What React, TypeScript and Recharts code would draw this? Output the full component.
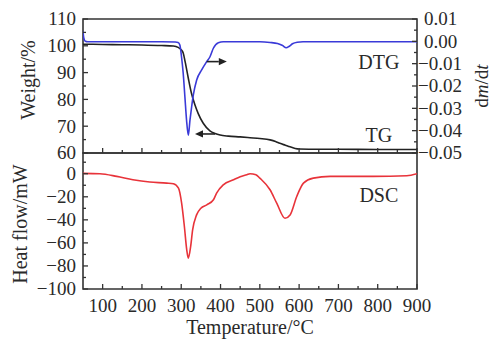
import React from 'react';
import { LineChart, Line, XAxis, YAxis, ReferenceArea, ReferenceLine, ReferenceDot } from 'recharts';

// ---------- data ----------
const tgTemp = [50, 100, 150, 200, 250, 280, 292, 300, 305, 310, 318, 326, 335, 343, 356, 373, 386, 399, 420, 450, 475, 500, 526, 540, 551, 565, 577, 590, 600, 650, 700, 800, 900];
const tgWeight = [100.6, 100.5, 100.4, 100.3, 100.1, 99.9, 99.4, 98.5, 97.3, 94.0, 87.9, 82.3, 77.9, 74.8, 71.1, 68.3, 67.3, 66.7, 66.3, 66.0, 65.7, 65.4, 64.9, 64.3, 63.6, 62.9, 62.3, 61.7, 61.5, 61.4, 61.4, 61.3, 61.3];

const dtgTemp = [50, 52, 56, 62, 150, 250, 285, 292, 296.5, 300.7, 305, 309.3, 313.5, 318, 322.3, 326.5, 330.8, 339.3, 352, 364.8, 373.2, 381.7, 394.4, 407, 450, 500, 526, 545, 558, 567, 575, 583, 595, 610, 700, 800, 900];
const dtgRate = [0.0045, 0.0015, 0.0, -0.0002, -0.0002, -0.0002, -0.0003, -0.0005, -0.0016, -0.0069, -0.0143, -0.0248, -0.0352, -0.042, -0.0352, -0.0293, -0.024, -0.0173, -0.0128, -0.0091, -0.0069, -0.0031, -0.0006, -0.0002, -0.0002, -0.0002, -0.0005, -0.001, -0.0019, -0.0029, -0.0022, -0.0011, -0.0004, -0.0002, -0.0002, -0.0002, -0.0002];

const dscTemp = [50, 93, 136, 177, 220, 263, 280, 293, 301, 308, 314, 318, 324, 329, 339, 350, 365, 382, 390, 407, 433, 450, 467, 475, 490, 500, 526, 543, 564, 577, 594, 611, 636, 679, 788, 874, 900];
const dscHeat = [0.3, 0, -2.3, -5.2, -7.2, -8.1, -8.7, -12.5, -25.5, -45.8, -66, -73.3, -63, -48.7, -35.7, -29.9, -27, -22.6, -16.8, -9.6, -5.2, -2.6, -0.9, 0, -0.8, -3.8, -13.9, -25.5, -38.6, -35.7, -19.7, -8.1, -3.8, -2.3, -2.3, -1.7, 0];

// ---------- ticks ----------
const tempTicks = [100, 150, 200, 250, 300, 350, 400, 450, 500, 550, 600, 650, 700, 750, 800, 850, 900];
const weightTicks = [60, 65, 70, 75, 80, 85, 90, 95, 100, 105, 110];
const rateTicks = [-0.05, -0.045, -0.04, -0.035, -0.03, -0.025, -0.02, -0.015, -0.01, -0.005, 0, 0.005, 0.01];
const heatTicks = [-100, -90, -80, -70, -60, -50, -40, -30, -20, -10, 0, 10];

const tempDomain = [50, 900];
const weightDomain = [60, 110];
const rateDomain = [-0.05, 0.01];
const heatDomain = [-100, 18];

// annotations (data coordinates)
const seriesLabels = [
  { text: 'DTG', t: 803, v: 93.6, axis: 'w' },
  { text: 'TG', t: 803, v: 66.7, axis: 'w' },
];
const dscLabel = { text: 'DSC', t: 803, v: -19.1 };
const arrowRight = { t1: 365, t2: 416, w: 94.1 };
const arrowLeft = { t1: 386, t2: 335, w: 67.1 };

const tgData = tgTemp.map((t, i) => ({ t, w: tgWeight[i] }));
const dtgData = dtgTemp.map((t, i) => ({ t, d: dtgRate[i] }));
const dscData = dscTemp.map((t, i) => ({ t, h: dscHeat[i] }));

// ---------- style ----------
const FONT = '"Liberation Serif", "Times New Roman", serif';
const FS = 19;
const FRAME = '#333';
const TXT = '#2a2a2a';

const minus = (s: string) => s.replace('-', '\u2212');

const near = (a: number, b: number) => Math.abs(a - b) < 1e-9;

const makeTick = (side: 'left' | 'right' | 'bottom', isMajor: (v: number) => boolean, fmt: (v: number) => string | null) =>
  (props: any) => {
    const { x, y, payload } = props;
    const v = payload.value as number;
    const major = isMajor(v);
    const len = major ? 5 : 3;
    const text = major ? fmt(v) : null;
    if (side === 'bottom') {
      return (
        <g>
          <line x1={x} x2={x} y1={y} y2={y - len} stroke={FRAME} strokeWidth={1.3} />
          {text && (
            <text x={x} y={y + 22.5} textAnchor="middle" fontFamily={FONT} fontSize={FS} fill={TXT}>{text}</text>
          )}
        </g>
      );
    }
    if (side === 'left') {
      return (
        <g>
          <line x1={x} x2={x + len} y1={y} y2={y} stroke={FRAME} strokeWidth={1.3} />
          {text && (
            <text x={x - 7} y={y + 6.3} textAnchor="end" fontFamily={FONT} fontSize={FS} fill={TXT}>{text}</text>
          )}
        </g>
      );
    }
    return (
      <g>
        <line x1={x} x2={x - len} y1={y} y2={y} stroke={FRAME} strokeWidth={1.3} />
        {text && (
          <text x={x + (v < -1e-9 ? 1 : 7)} y={y + 6.3} textAnchor="start" fontFamily={FONT} fontSize={FS} fill={TXT}>{text}</text>
        )}
      </g>
    );
  };

const isInt = (v: number, step: number) => near(v / step, Math.round(v / step));

const tempTick = makeTick('bottom', (v) => isInt(v, 100), (v) => String(v));
const tempTickNoLabel = makeTick('bottom', (v) => isInt(v, 100), () => null);
const weightTick = makeTick('left', (v) => isInt(v, 10), (v) => String(v));
const rateTick = makeTick('right', (v) => isInt(v * 1000, 10), (v) => minus((Math.round(v * 100) / 100).toFixed(2)));
const heatTick = makeTick('left', (v) => isInt(v, 20), (v) => (v === 0 ? '0' : minus(String(v))));

const Arrow = (p: any) => {
  const { x1, y1, x2, y2 } = p;
  const dir = Math.sign(x2 - x1);
  const hl = 8;
  const hw = 3.6;
  return (
    <g>
      <line x1={x1} y1={y1} x2={x2 - dir * hl} y2={y2} stroke="#222" strokeWidth={1.6} />
      <polygon points={`${x2},${y2} ${x2 - dir * hl},${y2 - hw} ${x2 - dir * hl},${y2 + hw}`} fill="#222" />
    </g>
  );
};

const textShape = (text: string) => (p: any) => (
  <text x={p.cx} y={p.cy + 6.5} textAnchor="middle" fontFamily={FONT} fontSize={FS + 1} fill={TXT}>{text}</text>
);

const leftTitle = (text: string, dx: number, dy: number) => (p: any) => {
  const vb = p.viewBox;
  const cx = vb.x + dx;
  const cy = vb.y + vb.height / 2 + dy;
  return (
    <text x={cx} y={cy} transform={`rotate(-90, ${cx}, ${cy})`} textAnchor="middle" dominantBaseline="central" fontFamily={FONT} fontSize={FS + 1} fill={TXT}>{text}</text>
  );
};

const rightTitle = (p: any) => {
  const vb = p.viewBox;
  const cx = vb.x + 64;
  const cy = vb.y + vb.height / 2;
  return (
    <text x={cx} y={cy} transform={`rotate(-90, ${cx}, ${cy})`} textAnchor="middle" dominantBaseline="central" fontFamily={FONT} fontSize={FS} fill={TXT}>
      d<tspan fontStyle="italic">m</tspan>/d<tspan fontStyle="italic">t</tspan>
    </text>
  );
};

const bottomTitle = (p: any) => {
  const vb = p.viewBox;
  return (
    <text x={vb.x + vb.width / 2} y={vb.y + 45} textAnchor="middle" fontFamily={FONT} fontSize={FS + 1} fill={TXT}>Temperature/°C</text>
  );
};

export default function App() {
  return (
    <div style={{ position: 'absolute', left: 0, top: 0, width: 491, height: 342, background: '#fff' }}>
      <div style={{ position: 'absolute', left: 0, top: 0 }}>
        <LineChart width={491} height={342} margin={{ top: 153, right: 74, bottom: 0, left: 0 }}>
          <XAxis dataKey="t" type="number" domain={tempDomain} ticks={tempTicks} interval={0} allowDataOverflow
            height={53} axisLine={false} tickLine={false} tickSize={0} tickMargin={0} tick={tempTick}
            label={{ content: bottomTitle }} />
          <YAxis yAxisId="h" type="number" domain={heatDomain} ticks={heatTicks} interval={0} allowDataOverflow
            width={83} axisLine={false} tickLine={false} tickSize={0} tickMargin={0} tick={heatTick}
            label={{ content: leftTitle('Heat flow/mW', 20, 3) }} />
          <ReferenceArea yAxisId="h" x1={50} x2={900} y1={-100} y2={18} fill="none" stroke={FRAME} strokeWidth={1.6} fillOpacity={0} />
          <Line yAxisId="h" data={dscData} dataKey="h" type="monotone" stroke="#e8333a" strokeWidth={1.6} dot={false} isAnimationActive={false} />
          <ReferenceDot yAxisId="h" x={dscLabel.t} y={dscLabel.v} r={1} shape={textShape(dscLabel.text)} />
        </LineChart>
      </div>
      <div style={{ position: 'absolute', left: 0, top: 0 }}>
        <LineChart width={491} height={180} margin={{ top: 19, right: 0, bottom: 0, left: 0 }}>
          <XAxis dataKey="t" type="number" domain={tempDomain} ticks={tempTicks} interval={0} allowDataOverflow
            height={27} axisLine={false} tickLine={false} tickSize={0} tickMargin={0} tick={tempTickNoLabel} />
          <YAxis yAxisId="w" orientation="left" type="number" domain={weightDomain} ticks={weightTicks} interval={0} allowDataOverflow
            width={83} axisLine={false} tickLine={false} tickSize={0} tickMargin={0} tick={weightTick}
            label={{ content: leftTitle('Weight/%', 28, -6) }} />
          <YAxis yAxisId="d" orientation="right" type="number" domain={rateDomain} ticks={rateTicks} interval={0} allowDataOverflow
            width={74} axisLine={false} tickLine={false} tickSize={0} tickMargin={0} tick={rateTick}
            label={{ content: rightTitle }} />
          <ReferenceArea yAxisId="w" x1={50} x2={900} y1={60} y2={110} fill="none" stroke={FRAME} strokeWidth={1.6} fillOpacity={0} />
          <Line yAxisId="w" data={tgData} dataKey="w" type="monotone" stroke="#222" strokeWidth={1.6} dot={false} isAnimationActive={false} />
          <Line yAxisId="d" data={dtgData} dataKey="d" type="monotone" stroke="#3a3ad8" strokeWidth={1.6} dot={false} isAnimationActive={false} />
          <ReferenceLine yAxisId="w" segment={[{ x: arrowRight.t1, y: arrowRight.w }, { x: arrowRight.t2, y: arrowRight.w }]} shape={Arrow} />
          <ReferenceLine yAxisId="w" segment={[{ x: arrowLeft.t1, y: arrowLeft.w }, { x: arrowLeft.t2, y: arrowLeft.w }]} shape={Arrow} />
          {seriesLabels.map((l) => (
            <ReferenceDot key={l.text} yAxisId={l.axis} x={l.t} y={l.v} r={1} shape={textShape(l.text)} />
          ))}
        </LineChart>
      </div>
    </div>
  );
}
